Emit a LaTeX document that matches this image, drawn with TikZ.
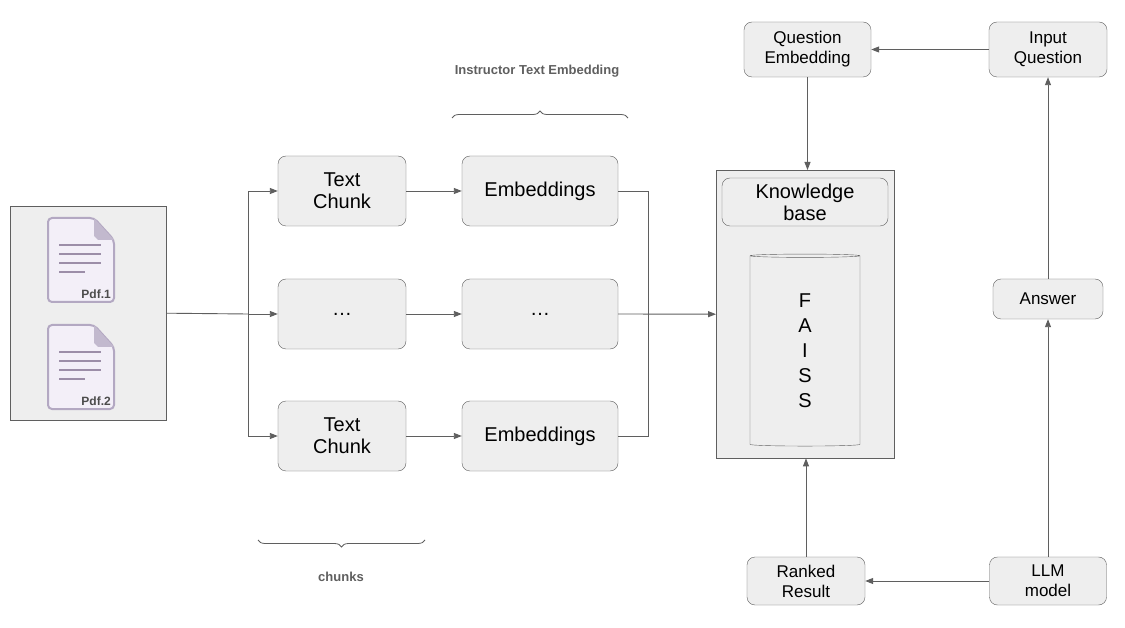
\documentclass[tikz,border=0pt]{standalone}
\usepackage{fontspec}
\setmainfont{Liberation Sans}
\usetikzlibrary{arrows.meta,shapes.geometric,decorations.pathreplacing}
\definecolor{bx}{HTML}{EEEEEE}
\definecolor{ln}{HTML}{5F5F5F}
\definecolor{docf}{HTML}{F3EFF8}
\definecolor{docs}{HTML}{B3A8C2}
\definecolor{docl}{HTML}{9C8EA8}
\tikzset{
  rbox/.style={draw=ln,fill=bx,rounded corners=8pt,align=center,inner sep=0pt},
  big/.style={font=\fontsize{20}{22}\selectfont},
  small/.style={font=\fontsize{17}{20}\selectfont},
  arr/.style={draw=ln,line width=0.9pt,-{Triangle[length=8pt,width=6pt]}},
  ln/.style={draw=ln,line width=0.9pt},
  lab/.style={font=\bfseries\fontsize{13}{15}\selectfont,text=ln},
  brc/.style={draw=ln,line width=0.8pt,decorate,decoration={brace,amplitude=7pt}}
}
\newcommand{\docicon}[3]{%
  \draw[docs,fill=docf,line width=2pt,rounded corners=4pt] (#1,#2) -- (#1+46,#2) -- (#1+66,#2+22) -- (#1+66,#2+84) -- (#1,#2+84) -- cycle;
  \fill[docs!80] (#1+46,#2) -- (#1+66,#2+22) -- (#1+50,#2+22) -- (#1+46,#2+18) -- cycle;
  \foreach \yy/\ww in {27/42,36/42,45/42,54/26}{\draw[docl,line width=2.4pt] (#1+11,#2+\yy) -- (#1+11+\ww,#2+\yy);}
  \node[anchor=south east,inner sep=1pt,text=ln!80!black,font=\bfseries\fontsize{12}{14}\selectfont] at (#1+64,#2+82) {#3};
}
\begin{document}
\begin{tikzpicture}[x=1pt,y=-1pt]
\useasboundingbox[fill=white] (0,0) rectangle (1125,628);
% PDF container
\node[draw=ln,fill=bx,minimum width=156pt,minimum height=214pt,inner sep=0pt,anchor=north west] (pdfs) at (10,206) {};
\docicon{48}{218}{Pdf.1}
\docicon{48}{325}{Pdf.2}
% chunks
\node[rbox,big,minimum width=128pt,minimum height=70pt] (c1) at (342,191) {Text\\Chunk};
\node[rbox,big,minimum width=128pt,minimum height=70pt] (c2) at (342,314) {\dots};
\node[rbox,big,minimum width=128pt,minimum height=70pt] (c3) at (342,436) {Text\\Chunk};
\node[rbox,big,minimum width=156pt,minimum height=70pt] (e1) at (540,191) {Embeddings};
\node[rbox,big,minimum width=156pt,minimum height=70pt] (e2) at (540,314) {\dots};
\node[rbox,big,minimum width=156pt,minimum height=70pt] (e3) at (540,436) {Embeddings};
\coordinate (s) at (248,314);
\coordinate (t) at (648,314);
\draw[ln] (pdfs.east) -- (s);
\draw[arr] (s) |- (c1.west);
\draw[arr] (s) -- (c2.west);
\draw[arr] (s) |- (c3.west);
\draw[arr] (c1) -- (e1);
\draw[arr] (c2) -- (e2);
\draw[arr] (c3) -- (e3);
\draw[ln] (e1.east) -| (t);
\draw[ln] (e3.east) -| (t);
% knowledge base
\node[draw=ln,fill=bx,minimum width=178pt,minimum height=288pt,inner sep=0pt,anchor=north west] (kb) at (716,170) {};
\node[rbox,big,minimum width=166pt,minimum height=48pt] (kbt) at (805,202) {Knowledge\\base};
\node[draw=ln,fill=bx,cylinder,shape border rotate=90,aspect=0.25,minimum width=110pt,minimum height=192pt,inner sep=0pt,big,align=center] (faiss) at (805,351) {F\\[3pt]A\\[3pt]I\\[3pt]S\\[3pt]S};
\draw[arr] (e2.east) -- (kb.west);
% right side
\node[rbox,small,minimum width=127pt,minimum height=55pt] (qe) at (807.5,49.5) {Question\\Embedding};
\node[rbox,small,minimum width=118pt,minimum height=55pt] (iq) at (1048,49.5) {Input\\Question};
\node[rbox,small,minimum width=110pt,minimum height=40pt] (ans) at (1048,299) {Answer};
\node[rbox,small,minimum width=117pt,minimum height=48pt] (llm) at (1048,581) {LLM\\model};
\node[rbox,small,minimum width=118pt,minimum height=48pt] (rr) at (806,581) {Ranked\\Result};
\draw[arr] (iq) -- (qe);
\draw[arr] (qe.south) -- (qe.south |- kb.north);
\draw[arr] (ans) -- (iq);
\draw[arr] (llm) -- (ans);
\draw[arr] (llm) -- (rr);
\draw[arr] (rr.north) -- (rr.north |- kb.south);
% braces
\draw[brc] (452,118) -- (628,118);
\node[lab] (l1) at (537,71) {Instructor Text Embedding};
\draw[brc] (425,540) -- (258,540);
\node[lab] (l2) at (341,577) {chunks};
\end{tikzpicture}
\end{document}
